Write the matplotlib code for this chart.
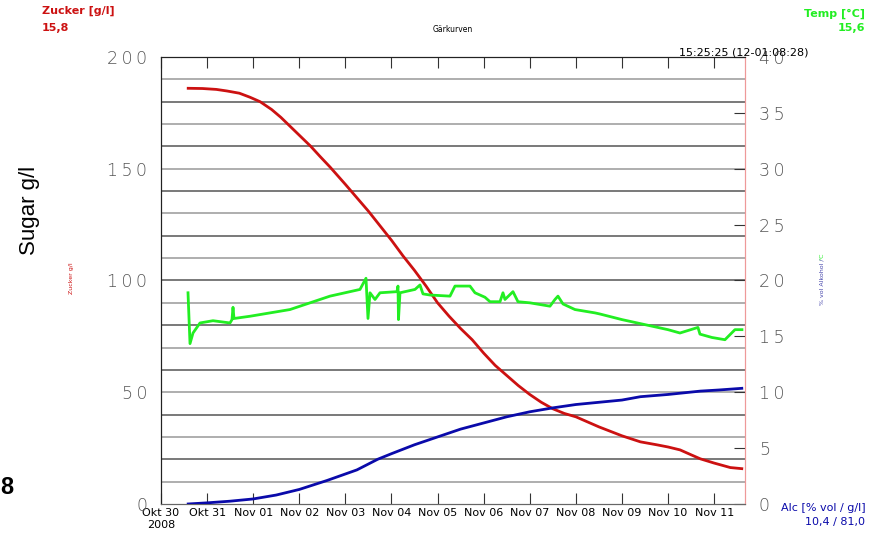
import matplotlib.pyplot as plt
import numpy as np

# days since Okt 30 2008 00:00
sugar_day = [0.59, 0.9, 1.2, 1.43, 1.7, 1.93, 2.15, 2.4, 2.6, 2.8, 3.0, 3.25, 3.45, 3.67, 4.0,
             4.5, 5.0, 5.25, 5.5, 5.75, 6.0, 6.25, 6.5, 6.75, 7.0, 7.25, 7.5, 7.75, 8.0, 8.25,
             8.5, 8.75, 9.0, 9.5, 10.0, 10.4, 10.75, 11.0, 11.26, 11.5, 11.7, 12.0, 12.35, 12.6]
sugar_val = [186, 185.9, 185.5, 184.8, 183.8, 182, 180, 176.5, 173, 169, 165, 160, 155.5, 150.7,
             143, 131, 118, 111, 104.5, 97.5, 90, 84, 78.5, 73.5, 67.5, 62, 57.5, 53, 49, 45.5,
             42.6, 40.5, 39, 34.5, 30.5, 27.8, 26.5, 25.5, 24.2, 22, 20.2, 18.3, 16.3, 15.8]

alc_day = [0.59, 1.0, 1.5, 2.0, 2.5, 3.0, 3.6, 4.25, 4.7, 5.0, 5.5, 6.0, 6.5, 7.0, 7.5, 8.0,
           8.5, 9.0, 9.5, 10.0, 10.4, 11.0, 11.7, 12.1, 12.6]
alc_val = [0.0, 0.1, 0.25, 0.45, 0.8, 1.3, 2.1, 3.05, 4.0, 4.5, 5.3, 6.0, 6.7, 7.25, 7.8, 8.25,
           8.6, 8.9, 9.1, 9.3, 9.6, 9.8, 10.1, 10.2, 10.35]

temp_x = [188, 190, 193, 200, 213, 230, 232, 233, 234, 250, 290, 310, 330, 360, 366, 368, 370,
          375, 380, 397, 398, 398.5, 400, 415, 420, 423, 430, 450, 455, 470, 475, 485, 490, 500,
          503, 505, 513, 518, 530, 550, 555, 558, 563, 575, 595, 600, 622, 668, 680, 698, 700,
          712, 725, 735, 742]
temp_val = [18.9, 14.35, 15.3, 16.2, 16.4, 16.2, 16.5, 17.6, 16.6, 16.8, 17.4, 18.0, 18.6, 19.2,
            20.2, 16.6, 18.9, 18.3, 18.9, 19.0, 19.5, 16.5, 18.9, 19.2, 19.6, 18.8, 18.7, 18.6,
            19.5, 19.5, 18.9, 18.5, 18.1, 18.1, 18.9, 18.3, 19.0, 18.1, 18.0, 17.7, 18.3, 18.6,
            17.9, 17.4, 17.1, 17.0, 16.5, 15.6, 15.3, 15.8, 15.2, 14.9, 14.7, 15.6, 15.6]
temp_day = [(x - 161) / 46.1 for x in temp_x]

day_labels = ['Okt 30\n2008', 'Okt 31', 'Nov 01', 'Nov 02', 'Nov 03', 'Nov 04', 'Nov 05',
              'Nov 06', 'Nov 07', 'Nov 08', 'Nov 09', 'Nov 10', 'Nov 11']
left_ticks = [0, 50, 100, 150, 200]
right_ticks = [0, 5, 10, 15, 20, 25, 30, 35, 40]

red = '#cc1111'
green = '#22ee22'
blue = '#0a0aaa'

def spaced(v):
    # wide, thin looking tick numbers
    return '\u2009'.join(str(v))

fig = plt.figure(figsize=(8.76, 5.54), dpi=100)
ax = fig.add_axes([0.1838, 0.0903, 0.6667, 0.8068])
ax2 = ax.twinx()

ax.set_xlim(0, 12.67)
ax.set_ylim(0, 200)
ax2.set_ylim(0, 40)

# horizontal grid every 10 g/l
for i, g in enumerate(range(10, 200, 10)):
    ax.axhline(g, color='#555555' if i % 2 else '#999999', lw=1.1, zorder=1)

ax.plot(sugar_day, sugar_val, color=red, lw=2, zorder=3)
ax2.plot(temp_day, temp_val, color=green, lw=2, zorder=3)
ax2.plot(alc_day, alc_val, color=blue, lw=2, zorder=3)

ax.set_xticks(range(13))
ax.set_xticklabels(day_labels, fontsize=8)
ax.tick_params(axis='x', direction='in', length=8, top=True, pad=3, color='#333333')
ax.set_yticks(left_ticks)
ax.set_yticklabels([spaced(v) for v in left_ticks], fontsize=12.5, fontweight='light',
                   color='#555555')
ax.tick_params(axis='y', length=0, pad=10)

ax2.set_yticks(right_ticks)
ax2.set_yticklabels([spaced(v) for v in right_ticks], fontsize=12.5, fontweight='light',
                    color='#555555')
ax2.tick_params(axis='y', direction='in', length=8, pad=10, color='#333333')

for a in (ax, ax2):
    a.spines['right'].set_color('#ee9999')
    a.spines['left'].set_color('#222222')
    a.spines['top'].set_color('#222222')
    a.spines['bottom'].set_color('#666666')

fig.text(0.048, 0.99, 'Zucker [g/l]', color=red, fontsize=8, fontweight='bold', va='top')
fig.text(0.048, 0.958, '15,8', color=red, fontsize=8, fontweight='bold', va='top')
fig.text(0.988, 0.985, 'Temp [°C]', color=green, fontsize=8, fontweight='bold', va='top', ha='right')
fig.text(0.988, 0.958, '15,6', color=green, fontsize=8, fontweight='bold', va='top', ha='right')
fig.text(0.517, 0.946, 'Gärkurven', fontsize=5.5, ha='center', va='center')
fig.text(0.775, 0.897, '15:25:25 (12-01:08:28)', fontsize=8, ha='left', va='bottom')
fig.text(0.034, 0.62, 'Sugar g/l', fontsize=16, rotation=90, ha='center', va='center',
         family='Liberation Sans')
fig.text(0.082, 0.498, 'Zucker g/l', fontsize=4.5, rotation=90, ha='center', va='center', color=red)
fig.text(0.938, 0.449, '% vol Alkohol /', fontsize=4.5, rotation=90, ha='center', va='bottom',
         color='#4444aa')
fig.text(0.938, 0.531, '°C', fontsize=4.5, rotation=90, ha='center', va='bottom', color=green)
fig.text(0.988, 0.083, 'Alc [% vol / g/l]', color=blue, fontsize=8, ha='right', va='center')
fig.text(0.988, 0.058, '10,4 / 81,0', color=blue, fontsize=8, ha='right', va='center')
fig.text(0.0, 0.12, '8', fontsize=17, fontweight='bold', family='Liberation Sans', va='center')

fig.savefig('out.png', dpi=100)
